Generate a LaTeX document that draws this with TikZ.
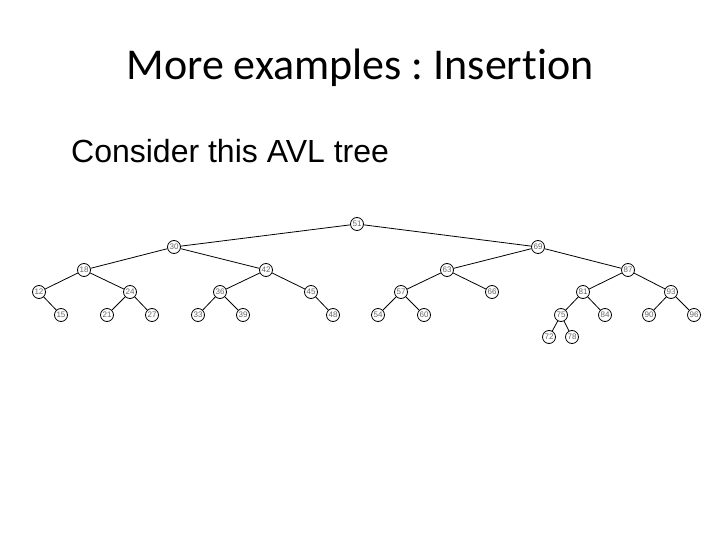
\documentclass[tikz,border=0pt]{standalone}
\usepackage{fontspec}
\setmainfont{Liberation Sans}
\newfontfamily\titlefont[Ligatures={NoCommon,NoRequired,NoContextual}]{Carlito}
\frenchspacing
\begin{document}
\begin{tikzpicture}[x=1pt,y=-1pt,
  avl/.style={circle,draw=black,line width=0.8pt,fill=white,minimum size=13pt,inner sep=0pt,font=\fontsize{8}{8}\selectfont,text=black!60},
  edge/.style={draw=black,line width=0.8pt}]
\useasboundingbox (0,0) rectangle (720,540);
\node[anchor=base,font=\titlefont\fontsize{44}{48}\selectfont] (title) at (360,80) {More examples : Inser\kern0pt t\kern0pt ion};
\node[anchor=base west,inner sep=0pt,font=\fontsize{32}{36}\selectfont] (intro) at (71,163) {Consider this AVL tree};
% nodes
\foreach \n/\x/\y in {51/357/224,30/174/247,69/538/247,18/84/270,42/266/270,63/447/270,87/628/270,
  12/39/292,24/130/292,36/220/292,45/311/292,57/401/292,66/492/292,81/583/292,93/671/292,
  15/61/315,21/107/315,27/152/315,33/198/315,39/243/315,48/333/315,54/378/315,60/424/315,
  75/561/315,84/605/315,90/649/315,96/694/315,72/549/337,78/572/337}
  \node[avl] (n\n) at (\x,\y) {\n};
% edges
\foreach \a/\b in {51/30,51/69,30/18,30/42,69/63,69/87,18/12,18/24,42/36,42/45,63/57,63/66,87/81,87/93,
  12/15,24/21,24/27,36/33,36/39,45/48,57/54,57/60,81/75,81/84,93/90,93/96,75/72,75/78}
  \draw[edge] (n\a) -- (n\b);
\end{tikzpicture}
\end{document}
